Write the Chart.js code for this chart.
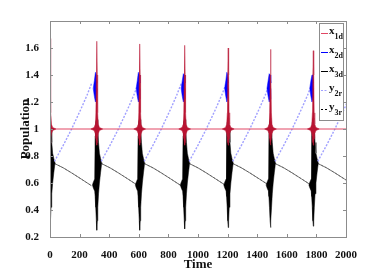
<!DOCTYPE html>
<html>
<head>
<meta charset="utf-8">
<script src="https://cdn.jsdelivr.net/npm/chart.js@4.4.0/dist/chart.umd.min.js"></script>
<style>
	html, body { margin: 0; padding: 0; background: #fff; }
</style>
</head>
<body>
<canvas id="chart_one" width="382" height="273"></canvas>
<script>
// times of the bursts and their extremes
var spikeT   = [0, 316, 606, 910, 1204, 1490, 1779];
var redPeak  = [1.67, 1.65, 1.63, 1.62, 1.60, 1.59, 1.58];
var bluePeak = [1.40, 1.42, 1.42, 1.41, 1.42, 1.41, 1.40];
var blackTop = [1.20, 1.08, 1.08, 1.08, 1.08, 1.08, 1.08];
var blackLow = [0.27, 0.25, 0.25, 0.26, 0.27, 0.27, 0.28];

// burst envelopes, time offset from the burst (0 = the peak value above)
var redDt  = [-40, -18, -10, -6, -3, 0, 3, 6, 10, 18, 40];
var redUp  = [1.0, 1.012, 1.035, 1.12, 1.4, 0, 1.4, 1.12, 1.035, 1.012, 1.0];
var redLo  = [1.0, 0.988, 0.965, 0.93, 0.9, 0.88, 0.9, 0.93, 0.965, 0.988, 1.0];

var blueDt = [-24, -16, -9, -3, 2];
var blueUp = [1.30, 1.36, 0, 1.40, 1.34];
var blueLo = [1.30, 1.24, 1.20, 1.22, 1.30];

var blackDt = [-30, -22, -14, -11, -7, -3, 0, 3, 7, 12, 18, 26, 34];
var blackUp = [0.585, 0.61, 0.63, 0.95, 1.05, 1.07, 0, 1.07, 1.0, 0.9, 0.82, 0.78, 0.75];
var blackLo = [0.585, 0.56, 0.54, 0.50, 0.42, 0.32, 0, 0.32, 0.42, 0.52, 0.60, 0.68, 0.75];

// slow parts between bursts
var riseDt = [30, 90, 146, 210, 250, 282];
var riseV  = [0.76, 0.88, 1.0, 1.15, 1.25, 1.34];
var fallDt = [30, 90, 146, 210, 280];
var fallV  = [0.745, 0.712, 0.675, 0.63, 0.58];

var xTicks = [0, 200, 400, 600, 800, 1000, 1200, 1400, 1600, 1800, 2000];
var yTicks = [0.2, 0.4, 0.6, 0.8, 1, 1.2, 1.4, 1.6];

var legendNames = [["x", "1d"], ["x", "2d"], ["x", "3d"], ["y", "2r"], ["y", "3r"]];

var RED = "rgb(185,20,50)", RED_LINE = "rgb(225,70,100)", BLUE = "rgb(0,0,255)",
	LBLUE = "rgb(160,160,255)", BLACK = "rgb(0,0,0)";

var datasets = [];

var addBurst = (t0, dt, up, lo, peakUp, peakLo, color, order) => {
	var upPts = dt.map((d, j) => ({x: t0 + d, y: up[j] === 0 ? peakUp : up[j]}));
	var loPts = dt.map((d, j) => ({x: t0 + d, y: lo[j] === 0 ? peakLo : lo[j]}));
	datasets.push({data: upPts, borderColor: color, borderWidth: 0.5, pointRadius: 0, fill: false, order: order});
	datasets.push({data: loPts, borderColor: color, borderWidth: 0.5, pointRadius: 0, fill: "-1",
		backgroundColor: color, order: order});
};

var segments = (dt, v) => {
	var pts = [];
	spikeT.forEach((t0) => {
		dt.forEach((d, j) => pts.push({x: t0 + d, y: v[j]}));
		pts.push({x: t0 + dt[dt.length - 1] + 1, y: null});
	});
	return pts;
};

// x1d flat level
datasets.push({data: [{x: 0, y: 1}, {x: 2000, y: 1}], borderColor: RED_LINE, borderWidth: 1,
	pointRadius: 0, fill: false, order: 2});

spikeT.forEach((t0, i) => {
	addBurst(t0, redDt, redUp, redLo, redPeak[i], 0.88, RED, 1);
	addBurst(t0, blueDt, blueUp, blueLo, bluePeak[i], 1.2, BLUE, 3);
	addBurst(t0, blackDt, blackUp, blackLo, blackTop[i], blackLow[i], BLACK, 5);
});

// y2r rising dotted
datasets.push({data: segments(riseDt, riseV), borderColor: LBLUE, borderWidth: 1.4, borderDash: [2, 1.5],
	pointRadius: 0, fill: false, spanGaps: false, order: 4});
// x3d falling
datasets.push({data: segments(fallDt, fallV), borderColor: "rgb(80,80,80)", borderWidth: 0.8,
	pointRadius: 0, fill: false, spanGaps: false, order: 6});
// y3r falling dotted
datasets.push({data: segments(fallDt, fallV), borderColor: "rgb(60,60,60)", borderWidth: 0.6, borderDash: [2, 2],
	pointRadius: 0, fill: false, spanGaps: false, order: 7});

// box + inward ticks like matlab
var boxTicks = {
	id: "boxTicks",
	afterDatasetsDraw(chart) {
		var ctx = chart.ctx, a = chart.chartArea, xs = chart.scales.x, ys = chart.scales.y;
		ctx.save();
		ctx.strokeStyle = "#8c8c8c";
		ctx.lineWidth = 1;
		ctx.beginPath();
		xTicks.forEach((t) => {
			var px = Math.round(xs.getPixelForValue(t)) + 0.5;
			ctx.moveTo(px, a.bottom); ctx.lineTo(px, a.bottom - 3);
			ctx.moveTo(px, a.top); ctx.lineTo(px, a.top + 3);
		});
		yTicks.forEach((t) => {
			var py = Math.round(ys.getPixelForValue(t)) + 0.5;
			ctx.moveTo(a.left, py); ctx.lineTo(a.left + 3, py);
			ctx.moveTo(a.right, py); ctx.lineTo(a.right - 3, py);
		});
		ctx.stroke();
		ctx.strokeRect(Math.round(a.left) + 0.5, Math.round(a.top) + 0.5,
			Math.round(a.right - a.left), Math.round(a.bottom - a.top));
		ctx.restore();
	}
};

// legend box with subscripts
var subLegend = {
	id: "subLegend",
	afterDraw(chart) {
		var ctx = chart.ctx;
		var styles = [
			{c: RED_LINE, dash: []}, {c: BLUE, dash: []}, {c: BLACK, dash: []},
			{c: LBLUE, dash: [2, 1.5]}, {c: BLACK, dash: [2, 2]}
		];
		var bx = 319.5, by = 23.5, bw = 24, bh = 97;
		ctx.save();
		ctx.fillStyle = "#fff";
		ctx.fillRect(bx, by, bw, bh);
		ctx.strokeStyle = "#8c8c8c";
		ctx.lineWidth = 1;
		ctx.strokeRect(bx, by, bw, bh);
		legendNames.forEach((n, i) => {
			var cy = 33 + i * 19;
			ctx.strokeStyle = styles[i].c;
			ctx.setLineDash(styles[i].dash);
			ctx.lineWidth = 1;
			ctx.beginPath();
			ctx.moveTo(321, cy + 0.5); ctx.lineTo(328, cy + 0.5);
			ctx.stroke();
			ctx.setLineDash([]);
			ctx.fillStyle = "#111";
			ctx.textBaseline = "alphabetic";
			ctx.textAlign = "left";
			ctx.font = "bold 11px 'Liberation Serif'";
			ctx.fillText(n[0], 329, cy + 1);
			var w = ctx.measureText(n[0]).width;
			ctx.font = "bold 8px 'Liberation Serif'";
			ctx.fillText(n[1], 329 + w, cy + 6);
		});
		ctx.restore();
	}
};

var ctx_one = document.getElementById("chart_one").getContext("2d");
var chart_one = new Chart(ctx_one, {
	type: "line",
	data: {datasets: datasets},
	options: {
		responsive: false,
		animation: false,
		layout: {padding: {top: 21, right: 36, left: 0, bottom: 0}},
		plugins: {legend: {display: false}, tooltip: {enabled: false}},
		scales: {
			x: {
				type: "linear", min: 0, max: 2000,
				grid: {display: false}, border: {display: false},
				ticks: {stepSize: 200, maxRotation: 0, autoSkip: false, padding: 4, color: "#111",
					font: {family: "'Liberation Serif'", size: 11, weight: "bold"},
					callback: (v) => String(v)},
				title: {display: true, text: "Time", color: "#111", padding: {top: 0, bottom: 1},
					font: {family: "'Liberation Serif'", size: 13, weight: "bold"}},
				afterFit: (scale) => { scale.height = 36; }
			},
			y: {
				type: "linear", min: 0.2, max: 1.8,
				grid: {display: false}, border: {display: false},
				ticks: {stepSize: 0.2, padding: 3, color: "#111",
					font: {family: "'Liberation Serif'", size: 11, weight: "bold"},
					callback: (v) => Math.abs(v - 1.8) < 1e-6 ? "" : String(Math.round(v * 10) / 10)},
				title: {display: true, text: "Population", color: "#111", padding: {top: 18, bottom: 0},
					font: {family: "'Liberation Serif'", size: 13, weight: "bold"}},
				afterFit: (scale) => { scale.width = 50; }
			}
		}
	},
	plugins: [boxTicks, subLegend]
});
</script>
</body>
</html>
